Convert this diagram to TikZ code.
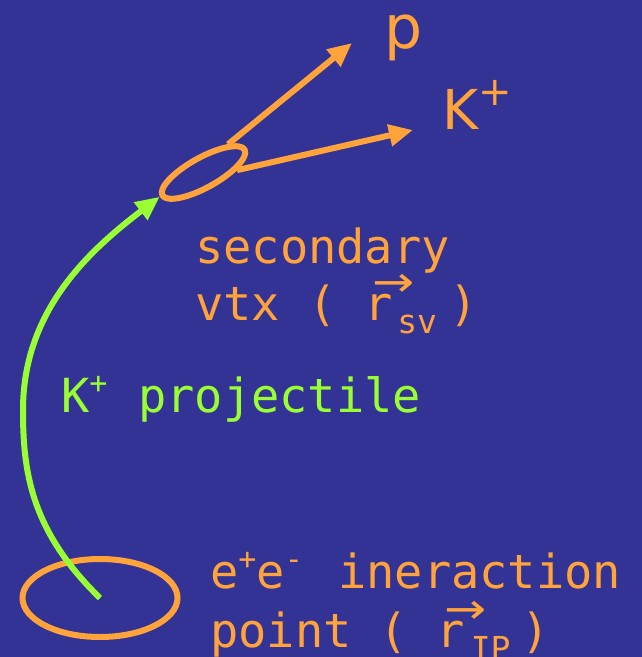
\documentclass[tikz,border=0pt]{standalone}
\usepackage{fontspec}
\setmainfont{DejaVu Sans}
\newfontfamily\monof{DejaVu Sans Mono}
\newfontfamily\symf{DejaVu Sans}
\usetikzlibrary{arrows.meta,shapes.geometric}
\definecolor{bgblue}{RGB}{51,51,150}
\definecolor{orng}{RGB}{255,163,58}
\definecolor{lgreen}{RGB}{153,255,51}
\newcommand{\vecr}{\makebox[0pt][l]{\kern8pt\raisebox{24pt}{\scalebox{1.2}[1]{\fontsize{42}{42}\selectfont\symf →}}}r}
\newcommand{\subtxt}[2]{\makebox[56.6pt][l]{\kern#1pt\raisebox{-13pt}{\fontsize{33}{33}\selectfont #2}}}
\newcommand{\suptxt}[1]{\raisebox{0.4em}{\fontsize{30}{30}\selectfont #1}}
\tikzset{
  lbl/.style={anchor=base west, inner sep=0pt, font=\monof\fontsize{47}{50}\selectfont},
  tracko/.style={draw=orng, line width=6pt},
  arro/.style={orng, line width=6pt, -{Triangle[length=24pt,width=21pt]}},
  arrg/.style={lgreen, line width=6pt, -{Triangle[length=24pt,width=21pt]}},
}
\begin{document}
\begin{tikzpicture}[x=1pt,y=-1pt]
\fill[bgblue] (0,0) rectangle (642,657);
\useasboundingbox (0,0) rectangle (642,657);
% vertices
\node[tracko, ellipse, minimum width=155pt, minimum height=78pt, inner sep=0pt] (ip) at (100,598) {};
\node[tracko, ellipse, rotate=29, minimum width=94pt, minimum height=30pt, inner sep=0pt] (sv) at (203.5,172.5) {};
% outgoing tracks
\node[anchor=base west, inner sep=0pt, orng, font=\fontsize{60}{60}\selectfont] (p) at (384,48) {p};
\node[anchor=base west, inner sep=0pt, orng, font=\fontsize{55}{55}\selectfont] (kp) at (442,129) {K\raisebox{0.42em}{\fontsize{40}{40}\selectfont +}};
\coordinate (ptip) at (352,43);
\coordinate (ktip) at (413,130);
\draw[arro] (sv.20) -- (ptip);
\draw[arro] (sv.-25) -- (ktip);
% projectile
\coordinate (bend) at (23,410);
\draw[arrg] (ip.center) .. controls (30,530) and (23,470) .. (bend)
  .. controls (23,310) and (90,250) .. (sv.west);
% labels
\node[lbl, orng] (sec1) at (195,263) {secondary};
\node[lbl, orng] (sec2) at (195,320) {vtx ( \vecr\subtxt{4}{sv})};
\node[lbl, lgreen] (proj) at (61,412) {\makebox[77pt][l]{K\suptxt{+}}projectile};
\node[lbl, orng] (ip1) at (210,588) {\makebox[128pt][l]{e\suptxt{+}e\suptxt{-}}ineraction};
\node[lbl, orng] (ip2) at (210,647) {point ( \vecr\subtxt{6}{IP})};
\end{tikzpicture}
\end{document}
